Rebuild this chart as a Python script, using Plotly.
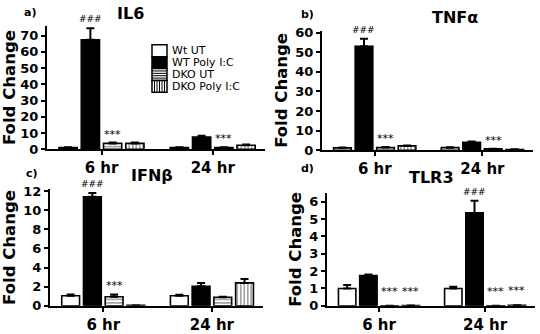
import plotly.graph_objects as go

W, H = 540, 334
FONT = "'DejaVu Sans', Arial, sans-serif"

groups = ["6 hr", "24 hr"]
series = ["Wt UT", "WT Poly I:C", "DKO UT", "DKO Poly I:C"]

# IL6
il6_vals = [[1.0, 1.0], [67.5, 7.5], [3.6, 1.0], [3.6, 2.5]]
il6_err = [[0.3, 0.2], [7.0, 0.8], [0.5, 0.2], [0.5, 0.4]]
# TNFa
tnf_vals = [[1.2, 1.3], [53.0, 4.0], [1.4, 0.7], [2.2, 0.4]]
tnf_err = [[0.2, 0.2], [3.8, 0.5], [0.2, 0.1], [0.2, 0.1]]
# IFNb
ifn_vals = [[1.05, 1.05], [11.4, 2.05], [0.95, 0.9], [0.05, 2.4]]
ifn_err = [[0.15, 0.1], [0.4, 0.35], [0.25, 0.05], [0.0, 0.4]]
# TLR3
tlr_vals = [[1.0, 1.0], [1.75, 5.35], [0.01, 0.01], [0.02, 0.03]]
tlr_err = [[0.2, 0.1], [0.05, 0.7], [0.0, 0.0], [0.0, 0.0]]

panel_titles = ["IL6", "TNFα", "IFNβ", "TLR3"]
panel_letters = ["a)", "b)", "c)", "d)"]
y_ranges = [[0, 76], [0, 61], [0, 12.2], [0, 6.5]]
y_dticks = [10, 10, 2, 1]

# significance marks: (panel, series index, group index)
hash_marks = [(0, 1, 0), (1, 1, 0), (2, 1, 0), (3, 1, 1)]
star_marks = [(0, 2, 0), (0, 2, 1), (1, 2, 0), (1, 2, 1), (2, 2, 0),
              (3, 2, 0), (3, 3, 0), (3, 2, 1), (3, 3, 1)]

def px_x(p):
    return p / W

def px_y(p):
    return 1 - p / H

# layout in pixels: (x0, x1, y_top, y_zero)
panels_px = [(47, 265, 22, 152), (322, 533, 27, 153), (50, 263, 194, 317), (327, 535, 198, 317)]

BARGAP = 0.2
NSER = 4
SLOT = (1 - BARGAP) / NSER

data_sets = [(il6_vals, il6_err), (tnf_vals, tnf_err), (ifn_vals, ifn_err), (tlr_vals, tlr_err)]

marker_styles = [
    dict(color="white", line=dict(color="black", width=1.6)),
    dict(color="black", line=dict(color="black", width=1.6)),
    dict(color="white", line=dict(color="black", width=1.6),
         pattern=dict(shape="-", fgcolor="black", bgcolor="white", size=3.5, solidity=0.35)),
    dict(color="white", line=dict(color="black", width=1.6),
         pattern=dict(shape="|", fgcolor="black", bgcolor="white", size=3.5, solidity=0.35)),
]

fig = go.Figure()
annotations = []
for pi, (vals, errs) in enumerate(data_sets):
    ax = "" if pi == 0 else str(pi + 1)
    for si in range(NSER):
        fig.add_trace(go.Bar(
            x=groups, y=vals[si], name=series[si], showlegend=False,
            marker=marker_styles[si],
            error_y=dict(type="data", array=errs[si], arrayminus=[0] * len(groups),
                         symmetric=False, color="black", thickness=2, width=4),
            xaxis="x" + ax, yaxis="y" + ax, offsetgroup=str(si),
        ))
    x0, x1, yt, yz = panels_px[pi]
    fig.layout["xaxis" + ax] = dict(
        domain=[px_x(x0), px_x(x1)], anchor="y" + ax, type="category",
        range=[-0.49, 1.47], showline=True, linecolor="black", linewidth=2,
        ticks="outside", ticklen=4, tickwidth=2, tickcolor="black",
        tickfont=dict(family=FONT, size=15, color="black", weight="bold"),
        showgrid=False, zeroline=False, fixedrange=True,
    )
    fig.layout["yaxis" + ax] = dict(
        domain=[px_y(yz), px_y(yt)], anchor="x" + ax, range=y_ranges[pi],
        dtick=y_dticks[pi], showline=True, linecolor="black", linewidth=2,
        ticks="outside", ticklen=4, tickwidth=2, tickcolor="black",
        tickfont=dict(family=FONT, size=13, color="black", weight="bold"),
        showgrid=False, zeroline=False,
        title=dict(text="Fold Change", standoff=4,
                   font=dict(family=FONT, size=16.5, color="black", weight="bold")),
    )

def bar_x(si, gi):
    return gi + (si - (NSER - 1) / 2) * SLOT

for (pi, si, gi) in hash_marks:
    vals, errs = data_sets[pi]
    ax = "" if pi == 0 else str(pi + 1)
    annotations.append(dict(x=bar_x(si, gi), y=vals[si][gi] + errs[si][gi],
                            xref="x" + ax, yref="y" + ax, text="###", showarrow=False,
                            xanchor="center", yanchor="bottom", yshift=2,
                            font=dict(family=FONT, size=9, color="black")))
for (pi, si, gi) in star_marks:
    vals, errs = data_sets[pi]
    ax = "" if pi == 0 else str(pi + 1)
    shift = 6 if pi == 3 else 0
    annotations.append(dict(x=bar_x(si, gi), y=vals[si][gi] + errs[si][gi],
                            xref="x" + ax, yref="y" + ax, text="***", showarrow=False,
                            xanchor="center", yanchor="bottom", yshift=shift,
                            font=dict(family=FONT, size=11, color="black")))

# panel titles & letters
title_pos = [(130, 9), (455, 13), (152, 180), (431, 182)]
letter_pos = [(30, 8), (307, 10), (32, 178), (307, 172)]
for i in range(4):
    tx, ty = title_pos[i]
    annotations.append(dict(x=px_x(tx), y=px_y(ty), xref="paper", yref="paper",
                            text=panel_titles[i], showarrow=False,
                            xanchor="center", yanchor="middle",
                            font=dict(family=FONT, size=16, color="black", weight="bold")))
    lx, ly = letter_pos[i]
    annotations.append(dict(x=px_x(lx), y=px_y(ly), xref="paper", yref="paper",
                            text=panel_letters[i], showarrow=False,
                            xanchor="center", yanchor="middle",
                            font=dict(family=FONT, size=11, color="black", weight="bold")))

# custom compact legend in panel a
shapes = []
lg_x0, lg_x1, lg_y0, lg_h = 152, 167, 42, 12.5
for i in range(NSER):
    ya = lg_y0 + i * lg_h
    yb = ya + lg_h
    fill = "black" if i == 1 else "white"
    shapes.append(dict(type="rect", xref="paper", yref="paper",
                       x0=px_x(lg_x0), x1=px_x(lg_x1), y0=px_y(yb), y1=px_y(ya),
                       fillcolor=fill, line=dict(color="black", width=1.5)))
    if i == 2:
        k = 1
        while ya + k * 2.5 < yb - 1:
            yy = ya + k * 2.5
            shapes.append(dict(type="line", xref="paper", yref="paper",
                               x0=px_x(lg_x0), x1=px_x(lg_x1), y0=px_y(yy), y1=px_y(yy),
                               line=dict(color="black", width=1)))
            k += 1
    if i == 3:
        k = 1
        while lg_x0 + k * 2.5 < lg_x1 - 1:
            xx = lg_x0 + k * 2.5
            shapes.append(dict(type="line", xref="paper", yref="paper",
                               x0=px_x(xx), x1=px_x(xx), y0=px_y(yb), y1=px_y(ya),
                               line=dict(color="black", width=1)))
            k += 1
    annotations.append(dict(x=px_x(171), y=px_y(ya + lg_h / 2), xref="paper", yref="paper",
                            text=series[i], showarrow=False, xanchor="left", yanchor="middle",
                            borderpad=0,
                            font=dict(family=FONT, size=11, color="black")))

fig.update_layout(
    width=W, height=H, margin=dict(l=0, r=0, t=0, b=0),
    paper_bgcolor="white", plot_bgcolor="white",
    barmode="group", bargap=BARGAP, bargroupgap=0.18,
    annotations=annotations, shapes=shapes, showlegend=False,
    font=dict(family=FONT, color="black"),
)

fig.write_html("out.html")
